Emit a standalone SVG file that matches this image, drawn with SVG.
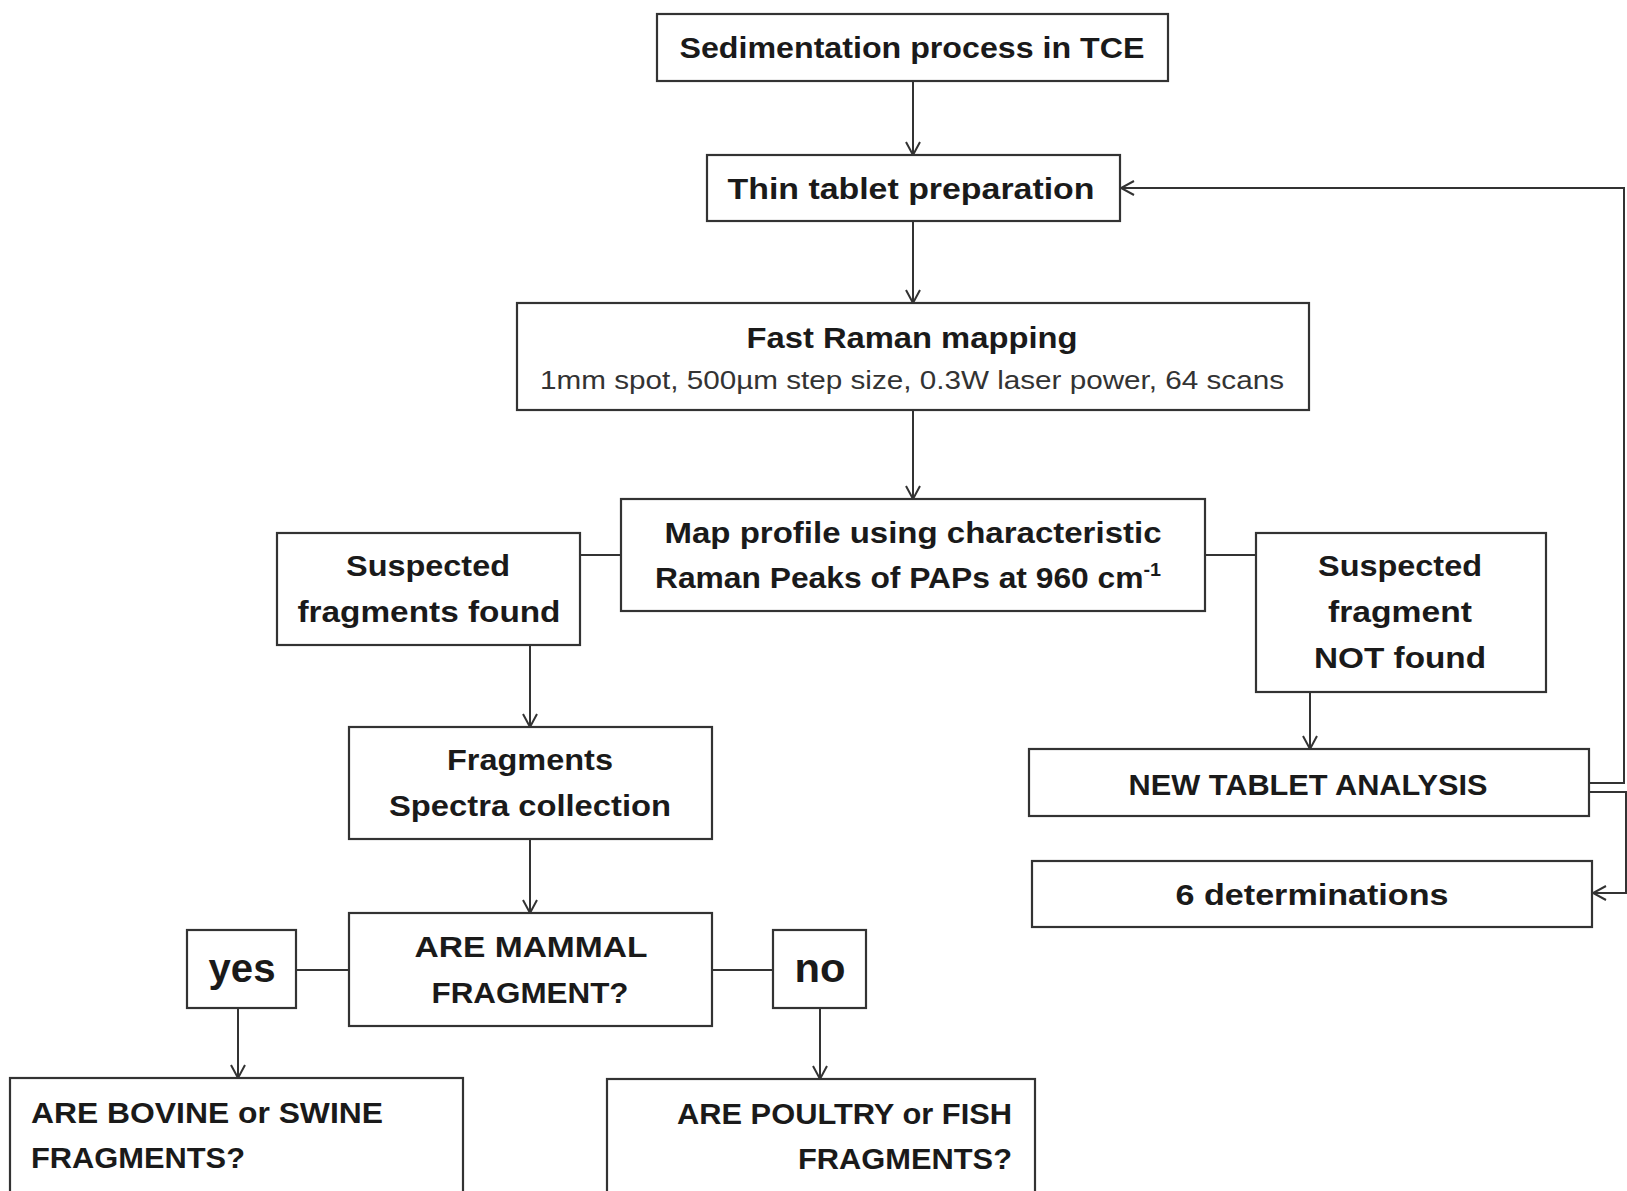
<svg xmlns="http://www.w3.org/2000/svg" width="1627" height="1191" viewBox="0 0 1627 1191">
<defs>
<marker id="arr" markerWidth="16" markerHeight="16" refX="14" refY="8" orient="auto" markerUnits="userSpaceOnUse">
<path d="M1,1 L14,8 L1,15" fill="none" stroke="#333" stroke-width="2"/>
</marker>
<style>
.box{fill:#fff;stroke:#333;stroke-width:2.2}
.t{font-family:"Liberation Sans",Arial,sans-serif;font-weight:bold;font-size:29px;fill:#1a1a1a;text-anchor:middle}
.s{font-family:"Liberation Sans",Arial,sans-serif;font-size:25px;fill:#333;text-anchor:middle}
.c{fill:none;stroke:#333;stroke-width:2}
</style>
</defs>
<rect width="1627" height="1191" fill="#fff"/>
<g id="connectors">
<line class="c" x1="913" y1="81" x2="913" y2="155" marker-end="url(#arr)"/>
<line class="c" x1="913" y1="221" x2="913" y2="303" marker-end="url(#arr)"/>
<line class="c" x1="913" y1="410" x2="913" y2="499" marker-end="url(#arr)"/>
<line class="c" x1="580" y1="555" x2="621" y2="555"/>
<line class="c" x1="1205" y1="555" x2="1256" y2="555"/>
<line class="c" x1="530" y1="645" x2="530" y2="727" marker-end="url(#arr)"/>
<line class="c" x1="530" y1="839" x2="530" y2="913" marker-end="url(#arr)"/>
<line class="c" x1="296" y1="970" x2="349" y2="970"/>
<line class="c" x1="712" y1="970" x2="773" y2="970"/>
<line class="c" x1="238" y1="1008" x2="238" y2="1078" marker-end="url(#arr)"/>
<line class="c" x1="820" y1="1008" x2="820" y2="1079" marker-end="url(#arr)"/>
<line class="c" x1="1310" y1="692" x2="1310" y2="749" marker-end="url(#arr)"/>
<polyline class="c" points="1589,783 1624,783 1624,188 1121,188" marker-end="url(#arr)"/>
<polyline class="c" points="1589,792 1626,792 1626,893 1593,893" marker-end="url(#arr)"/>
</g>
<g id="sedimentation">
<rect class="box" x="657" y="14" width="511" height="67"/>
<text class="t" x="912" y="58" textLength="465" lengthAdjust="spacingAndGlyphs">Sedimentation process in TCE</text>
</g>
<g id="thin-tablet">
<rect class="box" x="707" y="155" width="413" height="66"/>
<text class="t" x="911" y="199" textLength="367" lengthAdjust="spacingAndGlyphs">Thin tablet preparation</text>
</g>
<g id="fast-raman">
<rect class="box" x="517" y="303" width="792" height="107"/>
<text class="t" x="912" y="348" textLength="331" lengthAdjust="spacingAndGlyphs">Fast Raman mapping</text>
<text class="s" x="912" y="389" textLength="744" lengthAdjust="spacingAndGlyphs">1mm spot, 500µm step size, 0.3W laser power, 64 scans</text>
</g>
<g id="map-profile">
<rect class="box" x="621" y="499" width="584" height="112"/>
<text class="t" x="913" y="543" textLength="497" lengthAdjust="spacingAndGlyphs">Map profile using characteristic</text>
<text class="t" x="908" y="588" textLength="506" lengthAdjust="spacingAndGlyphs">Raman Peaks of PAPs at 960 cm<tspan dy="-12" font-size="18">-1</tspan></text>
</g>
<g id="suspected-found">
<rect class="box" x="277" y="533" width="303" height="112"/>
<text class="t" x="428" y="576" textLength="164" lengthAdjust="spacingAndGlyphs">Suspected</text>
<text class="t" x="429" y="622" textLength="263" lengthAdjust="spacingAndGlyphs">fragments found</text>
</g>
<g id="suspected-not-found">
<rect class="box" x="1256" y="533" width="290" height="159"/>
<text class="t" x="1400" y="576" textLength="164" lengthAdjust="spacingAndGlyphs">Suspected</text>
<text class="t" x="1400" y="622" textLength="144" lengthAdjust="spacingAndGlyphs">fragment</text>
<text class="t" x="1400" y="668" textLength="172" lengthAdjust="spacingAndGlyphs">NOT found</text>
</g>
<g id="new-tablet">
<rect class="box" x="1029" y="749" width="560" height="67"/>
<text class="t" x="1308" y="795" textLength="359" lengthAdjust="spacingAndGlyphs">NEW TABLET ANALYSIS</text>
</g>
<g id="determinations">
<rect class="box" x="1032" y="861" width="560" height="66"/>
<text class="t" x="1312" y="905" textLength="273" lengthAdjust="spacingAndGlyphs">6 determinations</text>
</g>
<g id="fragments-spectra">
<rect class="box" x="349" y="727" width="363" height="112"/>
<text class="t" x="530" y="770" textLength="166" lengthAdjust="spacingAndGlyphs">Fragments</text>
<text class="t" x="530" y="816" textLength="282" lengthAdjust="spacingAndGlyphs">Spectra collection</text>
</g>
<g id="mammal">
<rect class="box" x="349" y="913" width="363" height="113"/>
<text class="t" x="531" y="957" textLength="233" lengthAdjust="spacingAndGlyphs">ARE MAMMAL</text>
<text class="t" x="530" y="1003" textLength="197" lengthAdjust="spacingAndGlyphs">FRAGMENT?</text>
</g>
<g id="yes">
<rect class="box" x="187" y="930" width="109" height="78"/>
<text class="t" x="242" y="982" style="font-size:40px" textLength="67" lengthAdjust="spacingAndGlyphs">yes</text>
</g>
<g id="no">
<rect class="box" x="773" y="930" width="93" height="78"/>
<text class="t" x="820" y="982" style="font-size:40px" textLength="51" lengthAdjust="spacingAndGlyphs">no</text>
</g>
<g id="bovine-swine">
<rect class="box" x="10" y="1078" width="453" height="130"/>
<text class="t" x="31" y="1123" style="text-anchor:start" textLength="352" lengthAdjust="spacingAndGlyphs">ARE BOVINE or SWINE</text>
<text class="t" x="31" y="1168" style="text-anchor:start" textLength="214" lengthAdjust="spacingAndGlyphs">FRAGMENTS?</text>
</g>
<g id="poultry-fish">
<rect class="box" x="607" y="1079" width="428" height="130"/>
<text class="t" x="1012" y="1124" style="text-anchor:end" textLength="335" lengthAdjust="spacingAndGlyphs">ARE POULTRY or FISH</text>
<text class="t" x="1012" y="1169" style="text-anchor:end" textLength="214" lengthAdjust="spacingAndGlyphs">FRAGMENTS?</text>
</g>
</svg>
